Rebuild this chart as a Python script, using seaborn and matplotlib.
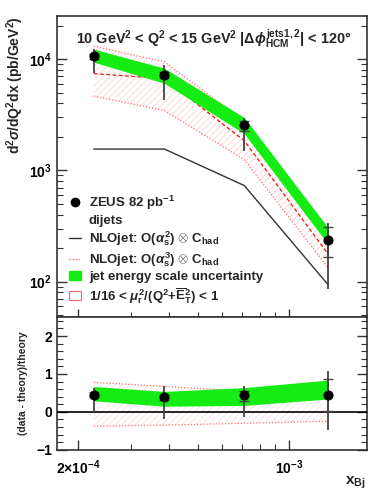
import numpy as np
import pandas as pd
import seaborn as sns
import matplotlib.pyplot as plt
import matplotlib.ticker as mticker
from matplotlib.lines import Line2D
from matplotlib.patches import Patch

# x_Bj bin centres
x_bj = [2.26e-4, 3.87e-4, 7.11e-4, 1.35e-3]

# cross section panel (pb/GeV^2)
xs_data = [10650, 7170, 2570, 235]
xs_tot_hi = [12300, 8830, 2930, 337]
xs_tot_lo = [7500, 4310, 1500, 85]
xs_stat_hi = [11200, 7600, 2760, 308]
xs_stat_lo = [10100, 6750, 2240, 166]
jes_hi = [12300, 8300, 2990, 303]
jes_lo = [9400, 6070, 2140, 215]
nlo2 = [1556, 1556, 731, 93]
nlo3 = [7420, 6680, 1850, 176]
nlo3_hi = [13100, 9460, 2800, 222]
nlo3_lo = [4650, 3450, 1250, 132]

# ratio panel (data - theory)/theory
ratio = [0.45, 0.38, 0.455, 0.455]
ratio_tot_hi = [0.64, 0.67, 0.67, 1.09]
ratio_tot_lo = [0.0, -0.19, -0.13, -0.49]
ratio_stat_hi = [0.52, 0.45, 0.54, 0.87]
ratio_stat_lo = [0.38, 0.31, 0.29, 0.02]
ratio_jes_hi = [0.67, 0.54, 0.64, 0.84]
ratio_jes_lo = [0.29, 0.15, 0.17, 0.34]
ratio_scale_hi = [0.78, 0.67, 0.55, 0.35]
ratio_scale_lo = [-0.38, -0.35, -0.30, -0.25]

sns.set_theme(style="ticks")
plt.rcParams['font.family'] = ['Liberation Sans', 'DejaVu Sans']
plt.rcParams['font.weight'] = 'bold'
plt.rcParams['mathtext.fontset'] = 'custom'
plt.rcParams['mathtext.rm'] = 'Liberation Sans:bold'
plt.rcParams['mathtext.it'] = 'Liberation Sans:italic:bold'
plt.rcParams['mathtext.bf'] = 'Liberation Sans:bold'
plt.rcParams['mathtext.sf'] = 'Liberation Sans:bold'
plt.rcParams['hatch.linewidth'] = 0.5
plt.rcParams['axes.edgecolor'] = '#333333'
plt.rcParams['xtick.color'] = '#333333'
plt.rcParams['ytick.color'] = '#333333'
plt.rcParams['xtick.labelcolor'] = 'black'
plt.rcParams['ytick.labelcolor'] = 'black'

df = pd.DataFrame({'x': x_bj, 'data': xs_data, 'nlo2': nlo2, 'nlo3': nlo3,
                   'nlo3_hi': nlo3_hi, 'nlo3_lo': nlo3_lo,
                   'ratio': ratio, 'r_hi': ratio_scale_hi, 'r_lo': ratio_scale_lo})

green = '#14ec14'
hatch_red = '#ffcaca'

fig = plt.figure(figsize=(3.74, 4.97), dpi=100)
ax = fig.add_axes([0.152, 0.362, 0.829, 0.606])
ax2 = fig.add_axes([0.152, 0.095, 0.829, 0.267], sharex=ax)

for a in (ax, ax2):
    a.set_xscale('log')
ax.set_yscale('log')

# ---- top panel ----
ax.fill_between(x_bj, nlo3_lo, nlo3_hi, facecolor='none', edgecolor=hatch_red,
                hatch='/////', linewidth=0, zorder=1)
sns.lineplot(data=df, x='x', y='nlo3_hi', ax=ax, color='#ff7070', lw=0.9,
             linestyle=(0, (1, 1.5)), sort=False, estimator=None, zorder=2)
sns.lineplot(data=df, x='x', y='nlo3_lo', ax=ax, color='#ff7070', lw=0.9,
             linestyle=(0, (1, 1.5)), sort=False, estimator=None, zorder=2)
sns.lineplot(data=df, x='x', y='nlo3', ax=ax, color='#ee1111', lw=0.9,
             linestyle=(0, (3, 2)), sort=False, estimator=None, zorder=2)
ax.fill_between(x_bj, jes_lo, jes_hi, color=green, linewidth=0, zorder=3)
sns.lineplot(data=df, x='x', y='nlo2', ax=ax, color='#333333', lw=1.0,
             sort=False, estimator=None, zorder=4)
ax.vlines(x_bj, xs_tot_lo, xs_tot_hi, color='#444444', lw=1.3, zorder=5)
ax.errorbar(x_bj, xs_data, yerr=[np.array(xs_data) - np.array(xs_stat_lo),
                                 np.array(xs_stat_hi) - np.array(xs_data)],
            fmt='none', ecolor='#444444', elinewidth=1.3, capsize=3.5,
            capthick=1.0, zorder=5)
sns.scatterplot(data=df, x='x', y='data', ax=ax, color='black', s=45,
                edgecolor='black', zorder=6)

ax.set_xlim(1.705e-4, 1.81e-3)
ax.set_ylim(48, 24500)
ax.set_xlabel('')
ax.set_ylabel(r'd$^2\sigma$/dQ$^2$dx (pb/GeV$^2$)', loc='top', fontsize=10,
              fontweight='bold', labelpad=2)
ax.text(0.505, 0.96, r'10 GeV$^2$ < Q$^2$ < 15 GeV$^2$ |$\Delta\phi^{\rm jets1,2}_{\rm HCM}$| < 120°',
        transform=ax.transAxes, ha='center', va='top', fontsize=10.4,
        fontweight='bold')

handles = [
    Line2D([], [], marker='o', color='black', ls='none', markersize=6),
    Line2D([], [], ls='none'),
    Line2D([], [], color='#333333', lw=1.0),
    Line2D([], [], color='#ff6060', lw=0.9, ls=(0, (1, 1.5))),
    Patch(facecolor=green, edgecolor=green),
    Patch(facecolor='white', edgecolor='#ee6666', lw=0.8),
]
labels = [
    r'ZEUS 82 pb$^{-1}$',
    'dijets',
    r'NLOjet: O($\alpha_{\rm s}^2$) $\otimes$ C$_{\rm had}$',
    r'NLOjet: O($\alpha_{\rm s}^3$) $\otimes$ C$_{\rm had}$',
    'jet energy scale uncertainty',
    r'1/16 < $\mu_{\rm r}^2$/(Q$^2$+$\overline{\rm E}_{\rm T}^2$) < 1',
]
leg = ax.legend(handles, labels, loc='upper left', bbox_to_anchor=(0.01, 0.44),
                frameon=False, fontsize=9.5, handlelength=0.9, handletextpad=0.6,
                labelspacing=0.18, borderaxespad=0.3)

# ---- ratio panel ----
ax2.fill_between(x_bj, ratio_scale_lo, ratio_scale_hi, facecolor='none',
                 edgecolor='#ffd8d8', hatch='/////', linewidth=0, zorder=1)
sns.lineplot(data=df, x='x', y='r_hi', ax=ax2, color='#ff7070', lw=0.9,
             linestyle=(0, (1, 1.5)), sort=False, estimator=None, zorder=2)
sns.lineplot(data=df, x='x', y='r_lo', ax=ax2, color='#ff7070', lw=0.9,
             linestyle=(0, (1, 1.5)), sort=False, estimator=None, zorder=2)
ax2.fill_between(x_bj, ratio_jes_lo, ratio_jes_hi, color=green, linewidth=0,
                 zorder=3)
ax2.axhline(0, color='black', lw=1.2, zorder=4)
ax2.vlines(x_bj, ratio_tot_lo, ratio_tot_hi, color='#444444', lw=1.3, zorder=5)
ax2.errorbar(x_bj, ratio, yerr=[np.array(ratio) - np.array(ratio_stat_lo),
                                np.array(ratio_stat_hi) - np.array(ratio)],
             fmt='none', ecolor='#444444', elinewidth=1.3, capsize=3.5,
             capthick=1.0, zorder=5)
sns.scatterplot(data=df, x='x', y='ratio', ax=ax2, color='black', s=45,
                edgecolor='black', zorder=6)
ax2.set_ylim(-1, 2.5)
ax2.set_ylabel('(data - theory)/theory', fontsize=7.5, fontweight='bold',
               labelpad=6)
ax2.set_xlabel(r'x$_{\rm Bj}$', loc='right', fontsize=11, fontweight='bold')
ax2.xaxis.set_label_coords(0.995, -0.19)

# ticks
ax.xaxis.set_major_locator(mticker.FixedLocator([2e-4, 1e-3]))
ax.xaxis.set_minor_locator(mticker.LogLocator(base=10, subs=np.arange(2, 10)))
ax.xaxis.set_minor_formatter(mticker.NullFormatter())
ax2.xaxis.set_major_formatter(mticker.FixedFormatter([r'2$\times$10$^{-4}$', r'10$^{-3}$']))
ax.yaxis.set_major_locator(mticker.LogLocator(base=10))
ax.yaxis.set_minor_locator(mticker.LogLocator(base=10, subs=np.arange(2, 10)))
ax.yaxis.set_minor_formatter(mticker.NullFormatter())
ax2.yaxis.set_major_locator(mticker.MultipleLocator(1))
ax2.yaxis.set_minor_locator(mticker.MultipleLocator(0.2))

ax.tick_params(axis='x', which='both', labelbottom=False, bottom=True, top=False,
               direction='inout')
ax.tick_params(axis='y', which='both', left=True, right=True, direction='in')
ax2.tick_params(axis='x', which='both', bottom=True, top=False, direction='in')
ax2.tick_params(axis='y', which='both', left=True, right=True, direction='in')
for a in (ax, ax2):
    a.tick_params(which='major', length=7, width=1.0, labelsize=10)
    a.tick_params(which='minor', length=4, width=0.8)
    for s in a.spines.values():
        s.set_linewidth(1.2)
        s.set_visible(True)
ax.tick_params(axis='x', which='major', length=12)
ax.tick_params(axis='x', which='minor', length=7)
ax2.tick_params(axis='x', which='major', pad=6)

plt.savefig('out.png', dpi=100)
plt.close()
